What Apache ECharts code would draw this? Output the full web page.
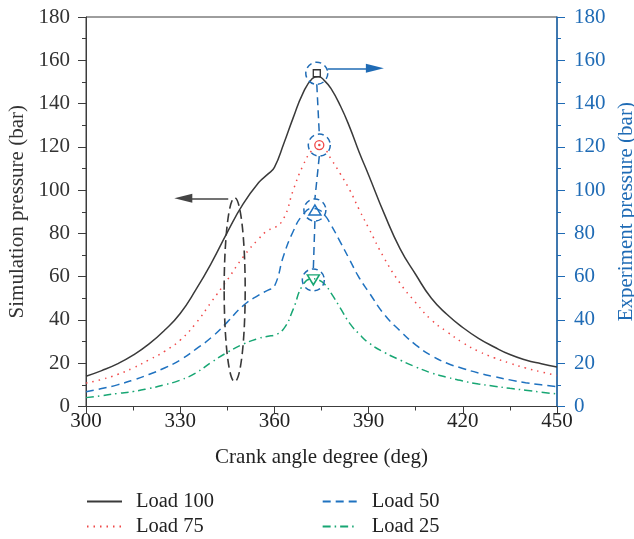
<!DOCTYPE html>
<html>
<head>
<meta charset="utf-8">
<script src="https://cdn.jsdelivr.net/npm/echarts@6/dist/echarts.min.js"></script>
<style>
html,body{margin:0;padding:0;background:#fff;}
#chart{width:634px;height:539px;}
</style>
</head>
<body>
<div id="chart"></div>
<script>
// ---- data ----
const crankAngle = [300,305,310,315,320,325,330,335,340,345,350,355,358,360,363,366,369,372,374,376,378,381,384,387,390,395,400,405,410,415,420,425,430,435,440,445,450];
const load100 = [14,16.6,19.7,23.7,28.8,35.2,43,54,66.5,80.5,93.5,103.5,107.5,110.5,121.5,133.5,144.5,151.5,152.5,150.5,147,139,129,117.5,107,89,73,61,50,42.5,36.5,31.5,27.5,24,21.5,19.8,18.3];
const load75  = [10.8,12.5,14.8,17.8,21.5,25.5,30.7,38.5,48.5,58.5,69,77.5,81.5,82.5,87,100,111,118.5,120,119,114.5,107.5,100,91,82.5,68.5,57,48,40,34.5,29.5,25.5,22.5,20,17.8,16,14.3];
const load50  = [6.8,8.3,10,12.2,14.8,17.8,21.5,26.5,32,39,46.5,51.5,53.8,55.5,70,81,88.5,91.5,91,88.5,84,76,67.7,59.5,53,42.5,35,28.5,23.5,20,17.6,15.5,13.8,12.3,11,10,9.2];
const load25  = [4.1,5,6,6.9,8.3,10,12.2,15.5,20.5,25,28.8,31.5,32.5,33,36,45,56,59,58.5,56.5,52.5,45.5,38.4,33.5,29.5,25,21.5,18.3,15.5,13.5,11.8,10.4,9.4,8.4,7.5,6.6,5.8];
const expAngle = [373.5,374.3,372.9,372.4];
const expPressure = [154,120.8,90.8,58.5];
const seriesNames = ['Load 100','Load 75','Load 50','Load 25'];
const xTicks = {min:300,max:450,interval:30};
const yTicks = {min:0,max:180,interval:20};
// ellipse annotation: [angleLeft, angleRight, pressureBottom, pressureTop]
const ellipseBox = [344, 350.7, 11.5, 96.5];
const leftArrow = [[345.3,96.2],[331,96.2]];
const rightArrow = [[377,156.3],[392,156.3]];

const FONT = 'Liberation Serif';
const DARK = '#3c3c3c';
const BLUE = '#1f6bb5';
const colors = ['#3a3a3a','#f04848','#1f72c0','#17a673'];
const dashTypes = ['solid',[1.5,5],[8,5],[8,4,1.5,4]];

const pairs = arr => crankAngle.map((x,i)=>[x,arr[i]]);
const lineData = [load100,load75,load50,load25];

const lineSeries = lineData.map((d,i)=>({
  name: seriesNames[i], type:'line', yAxisIndex:0, data: pairs(d),
  symbol:'none', showSymbol:false, smooth:0.5,
  lineStyle:{color:colors[i], width:1.5, type:dashTypes[i]},
  itemStyle:{color:colors[i]}, z:3
}));

// connector segments between dashed circles
const circleR = 5.1;
const connectors = [];
for (let i=0;i<expAngle.length-1;i++){
  connectors.push([{coord:[expAngle[i],expPressure[i]-circleR]},{coord:[expAngle[i+1],expPressure[i+1]+circleR]}]);
}

const legendCommon = {left:86, padding:0, itemWidth:35, itemHeight:14,
  itemStyle:{opacity:0},
  textStyle:{fontFamily:FONT,fontSize:20.5,color:'#222',padding:[0,0,0,9]}};

const chart = echarts.init(document.getElementById('chart'));
chart.setOption({
  animation:false,
  backgroundColor:'#fff',
  textStyle:{fontFamily:FONT},
  grid:{left:86,right:77,top:17,bottom:132.5,outerBoundsMode:'none',containLabel:false,
        show:true,borderColor:DARK,borderWidth:1,backgroundColor:'transparent'},
  legend:[
    Object.assign({data:['Load 100','Load 50'], top:491, itemGap:107.7}, legendCommon),
    Object.assign({data:['Load 75','Load 25'], top:516, itemGap:117.9}, legendCommon)
  ],
  xAxis:{type:'value', min:xTicks.min, max:xTicks.max, interval:xTicks.interval,
    name:'Crank angle degree (deg)', nameLocation:'middle', nameGap:40.5,
    nameTextStyle:{fontFamily:FONT,fontSize:21,color:'#222'},
    axisLine:{lineStyle:{color:DARK,width:1}},
    axisTick:{length:7,lineStyle:{color:DARK}},
    minorTick:{show:true,splitNumber:2,length:4,lineStyle:{color:DARK}},
    splitLine:{show:false},
    axisLabel:{fontFamily:FONT,fontSize:21,color:'#222',margin:4}},
  yAxis:[
    {type:'value', min:yTicks.min, max:yTicks.max, interval:yTicks.interval, position:'left',
     name:'Simulation pressure (bar)', nameLocation:'middle', nameGap:53,
     nameTextStyle:{fontFamily:FONT,fontSize:21,color:'#333'},
     axisLine:{show:true,lineStyle:{color:DARK,width:1}},
     axisTick:{show:true,length:8,lineStyle:{color:DARK}},
     minorTick:{show:true,splitNumber:2,length:4,lineStyle:{color:DARK}},
     splitLine:{show:false},
     axisLabel:{fontFamily:FONT,fontSize:21,color:'#333',margin:16}},
    {type:'value', min:yTicks.min, max:yTicks.max, interval:yTicks.interval, position:'right',
     name:'Experiment pressure (bar)', nameLocation:'middle', nameGap:56,
     nameTextStyle:{fontFamily:FONT,fontSize:21,color:BLUE},
     axisLine:{show:true,lineStyle:{color:BLUE,width:1.5}},
     axisTick:{show:true,length:8,lineStyle:{color:BLUE}},
     minorTick:{show:true,splitNumber:2,length:4,lineStyle:{color:BLUE}},
     splitLine:{show:false},
     axisLabel:{fontFamily:FONT,fontSize:21,color:BLUE,margin:17}}
  ],
  series:[
    ...lineSeries,
    {name:'ellipse', type:'custom', yAxisIndex:0, silent:true, z:4,
     data:[ellipseBox],
     renderItem:function(params, api){
       const p1 = api.coord([api.value(0), api.value(3)]);
       const p2 = api.coord([api.value(1), api.value(2)]);
       return {type:'ellipse',
         shape:{cx:(p1[0]+p2[0])/2, cy:(p1[1]+p2[1])/2, rx:Math.abs(p2[0]-p1[0])/2, ry:Math.abs(p2[1]-p1[1])/2},
         style:{fill:'none', stroke:'#383838', lineWidth:1.6, lineDash:[9,4.5]}};
     },
     markLine:{silent:true, symbol:['none','triangle'], symbolSize:[9,18], label:{show:false},
       lineStyle:{color:'#444',width:1.5,type:'solid'},
       data:[[{coord:leftArrow[0]},{coord:leftArrow[1]}]]}},
    {name:'circles', type:'scatter', yAxisIndex:1, silent:true, z:4,
     data:expAngle.map((x,i)=>[x,expPressure[i]]), symbol:'circle', symbolSize:22,
     itemStyle:{opacity:1,color:'rgba(0,0,0,0)',borderColor:BLUE,borderWidth:1.5,borderType:[6,4]},
     markLine:{silent:true, symbol:['none','none'], label:{show:false},
       lineStyle:{color:BLUE,width:1.5,type:[8,5]}, data:connectors}},
    {name:'arrowBlue', type:'scatter', yAxisIndex:1, silent:true, data:[], 
     markLine:{silent:true, symbol:['none','triangle'], symbolSize:[9,18], label:{show:false},
       lineStyle:{color:BLUE,width:1.5,type:'solid'},
       data:[[{coord:rightArrow[0]},{coord:rightArrow[1]}]]}},
    {name:'Experiment', type:'scatter', yAxisIndex:1, silent:true, z:5,
     itemStyle:{opacity:1},
     data:[
       {value:[expAngle[0],expPressure[0]], symbol:'rect', symbolSize:7, itemStyle:{opacity:1,color:'#fff',borderColor:'#333',borderWidth:1.3}},
       {value:[expAngle[1],expPressure[1]], symbol:'circle', symbolSize:9, itemStyle:{opacity:1,color:'#fff',borderColor:'#f04848',borderWidth:1.3}},
       {value:[expAngle[1],expPressure[1]], symbol:'circle', symbolSize:2.5, itemStyle:{opacity:1,color:'#f04848'}},
       {value:[expAngle[2],expPressure[2]], symbol:'triangle', symbolSize:[12,10], itemStyle:{opacity:1,color:'rgba(255,255,255,0)',borderColor:'#1f72c0',borderWidth:1.5}},
       {value:[expAngle[3],expPressure[3]], symbol:'triangle', symbolRotate:180, symbolSize:[12,10], itemStyle:{opacity:1,color:'rgba(255,255,255,0)',borderColor:'#17a673',borderWidth:1.5}}
     ]}
  ]
});
</script>
</body>
</html>
